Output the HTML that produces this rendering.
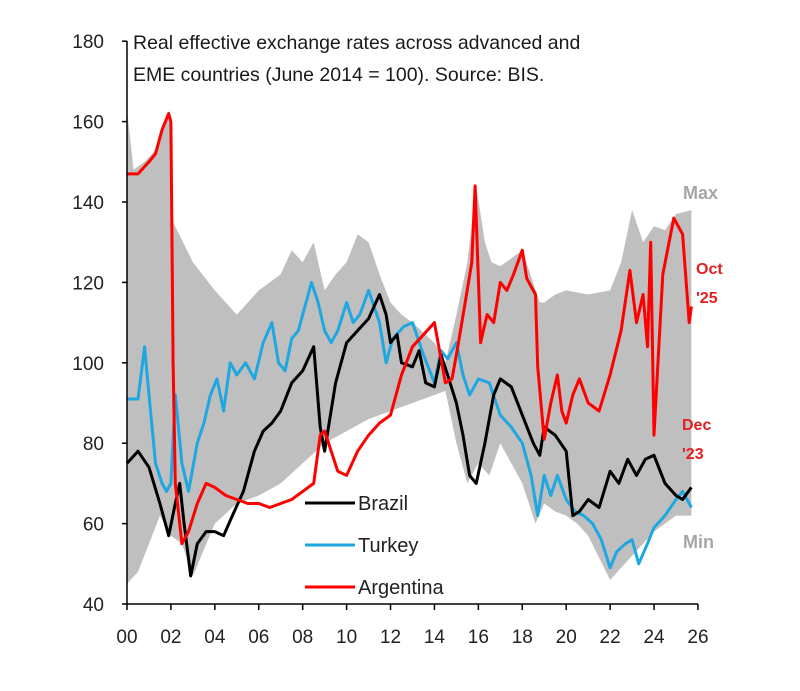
<!DOCTYPE html>
<html><head><meta charset="utf-8"><style>
body{margin:0;background:#fff;}
svg{display:block;font-family:"Liberation Sans",sans-serif;}
</style></head><body>
<svg id="c" width="800" height="691"></svg>
<script>
const xTicks=[0,2,4,6,8,10,12,14,16,18,20,22,24,26];
const xTickLabels=["00","02","04","06","08","10","12","14","16","18","20","22","24","26"];
const yTicks=[40,60,80,100,120,140,160,180];
const maxYears=[0,0.3,0.8,1.3,1.8,1.95,2.1,3,4,5,6,7,7.5,8,8.5,9,9.5,10,10.5,11,11.5,12,12.5,13,14,14.5,15,15.5,15.9,16.3,16.6,17,17.5,18,18.8,19,19.5,20,21,22,22.5,23,23.5,24,24.5,25,25.7];
const maxVals=[163,148,150,153,160,163,135,125,118,112,118,122,128,125,130,118,122,125,132,130,122,115,112,110,105,100,112,125,144,130,125,124,126,128,115,115,117,118,117,118,125,138,130,134,133,137,138];
const minYears=[0,0.5,1,1.5,2,2.5,3,4,5,6,7,8,9,10,11,12,13,14,14.5,15,15.5,16,16.5,17,18,18.6,19,19.5,20,20.5,21,22,23,24,25,25.7];
const minVals=[45,48,55,62,57,55,47,60,65,67,70,75,80,83,86,88,90,92,93,80,70,75,72,80,70,60,65,63,62,60,57,46,52,58,62,62];
const argYears=[0,0.5,1,1.3,1.6,1.9,2.0,2.1,2.2,2.5,2.8,3.2,3.6,4,4.5,5,5.5,6,6.5,7,7.5,8,8.5,8.8,9,9.3,9.6,10,10.5,11,11.5,12,12.5,13,13.5,14,14.5,14.8,15,15.4,15.7,15.85,16.1,16.4,16.7,17,17.3,17.6,18,18.2,18.6,18.7,19,19.3,19.6,19.8,20,20.3,20.6,21,21.5,22,22.5,22.9,23.2,23.5,23.7,23.85,24.0,24.4,24.9,25.3,25.6,25.7];
const argVals=[147,147,150,152,158,162,160,100,70,55,58,65,70,69,67,66,65,65,64,65,66,68,70,82,83,78,73,72,78,82,85,87,97,104,107,110,95,96,102,115,125,144,105,112,110,120,118,122,128,121,117,99,81,90,97,88,85,92,96,90,88,97,108,123,110,117,104,130,82,122,136,132,110,114];
const brzYears=[0,0.5,1,1.5,1.9,2.2,2.4,2.6,2.9,3.2,3.6,4,4.4,4.8,5.3,5.8,6.2,6.6,7,7.5,8,8.5,8.8,9,9.5,10,10.5,11,11.5,11.8,12,12.3,12.5,13,13.3,13.6,14,14.3,14.6,15,15.3,15.6,15.9,16.3,16.7,17,17.5,18,18.5,18.8,19,19.5,20,20.3,20.6,21,21.5,22,22.4,22.8,23.2,23.6,24,24.5,25,25.3,25.7];
const brzVals=[75,78,74,65,57,65,70,60,47,55,58,58,57,62,68,78,83,85,88,95,98,104,84,78,95,105,108,111,117,112,105,107,100,99,103,95,94,102,97,90,82,72,70,80,92,96,94,87,80,77,84,82,78,62,63,66,64,73,70,76,72,76,77,70,67,66,69];
const turYears=[0,0.5,0.8,1,1.3,1.6,1.8,2,2.2,2.5,2.8,3.2,3.5,3.8,4.1,4.4,4.7,5,5.4,5.8,6.2,6.6,6.9,7.2,7.5,7.8,8.1,8.4,8.7,9,9.3,9.6,10,10.3,10.6,11,11.5,11.8,12.1,12.6,13,13.5,14,14.3,14.6,15,15.3,15.6,16,16.5,17,17.5,18,18.4,18.7,19,19.3,19.6,20,20.4,20.8,21.2,21.6,22,22.3,22.7,23,23.3,23.7,24,24.5,25,25.3,25.7];
const turVals=[91,91,104,92,75,70,68,70,92,75,68,80,85,92,96,88,100,97,100,96,105,110,100,98,106,108,114,120,115,108,105,108,115,110,112,118,110,100,106,109,110,102,95,103,101,105,97,92,96,95,87,84,80,72,62,72,67,72,66,63,62,60,56,49,53,55,56,50,55,59,62,66,68,64];

const svg=document.getElementById('c');
const NS='http://www.w3.org/2000/svg';
const X=v=>127+v*21.96;
const Y=v=>604-(v-40)*4.02;
function mk(tag,attrs,parent){const e=document.createElementNS(NS,tag);for(const k in attrs)e.setAttribute(k,attrs[k]);(parent||svg).appendChild(e);return e;}

let d='M'+maxYears.map((t,i)=>X(t).toFixed(1)+','+Y(maxVals[i]).toFixed(1)).join('L');
for(let i=minYears.length-1;i>=0;i--)d+='L'+X(minYears[i]).toFixed(1)+','+Y(minVals[i]).toFixed(1);
d+='Z';
const band=mk('path',{d:d,fill:'#bfbfbf'});



function line(ys,vs,color,name){
  const p=mk('path',{d:'M'+ys.map((t,i)=>X(t).toFixed(1)+','+Y(vs[i]).toFixed(1)).join('L'),fill:'none',stroke:color,'stroke-width':3,'stroke-linejoin':'round'});
  
  
}
line(turYears,turVals,'#1ea7e1','turkey-line');
line(brzYears,brzVals,'#000','brazil-line');
line(argYears,argVals,'#f00','argentina-line');

const ax=mk('line',{x1:127,y1:41,x2:127,y2:604,stroke:'#000','stroke-width':1.5});


const bx=mk('line',{x1:127,y1:604,x2:X(26),y2:604,stroke:'#000','stroke-width':1.5});


yTicks.forEach(v=>{
  mk('line',{x1:122,y1:Y(v),x2:127,y2:Y(v),stroke:'#000','stroke-width':1.5});
  const t=mk('text',{x:104,y:Y(v)+7,'text-anchor':'end','font-size':19,fill:'#222'});
  t.textContent=v;
  
  
});
xTicks.forEach((v,i)=>{
  mk('line',{x1:X(v),y1:604,x2:X(v),y2:610,stroke:'#000','stroke-width':1.5});
  const t=mk('text',{x:X(v),y:643,'text-anchor':'middle','font-size':19,fill:'#222'});
  t.textContent=xTickLabels[i];
  
  
});
</script>
<svg width="800" height="691" style="position:absolute;left:0;top:0" font-family="Liberation Sans, sans-serif">
<g font-size="19.5" fill="#1a1a1a">
<text x="133" y="49">Real effective exchange rates across advanced and</text>
<text x="133" y="81">EME countries (June 2014 = 100). Source: BIS.</text>
</g>
<g font-size="20" fill="#222">
<line x1="305" y1="503" x2="355" y2="503" stroke="#000" stroke-width="3"/><text x="358" y="510">Brazil</text>
<line x1="305" y1="545" x2="355" y2="545" stroke="#1ea7e1" stroke-width="3"/><text x="358" y="552">Turkey</text>
<line x1="305" y1="587" x2="355" y2="587" stroke="#f00" stroke-width="3"/><text x="358" y="594">Argentina</text>
</g>
<text x="683" y="199" font-size="18" font-weight="bold" fill="#a6a6a6">Max</text>
<text x="683" y="548" font-size="18" font-weight="bold" fill="#a6a6a6">Min</text>
<g font-size="16" font-weight="bold" fill="#e32020"><text x="696" y="274">Oct</text><text x="696" y="303">'25</text></g>
<g font-size="16" font-weight="bold" fill="#e32020"><text x="682" y="430">Dec</text><text x="682" y="459">'23</text></g>
</svg>
</body></html>
